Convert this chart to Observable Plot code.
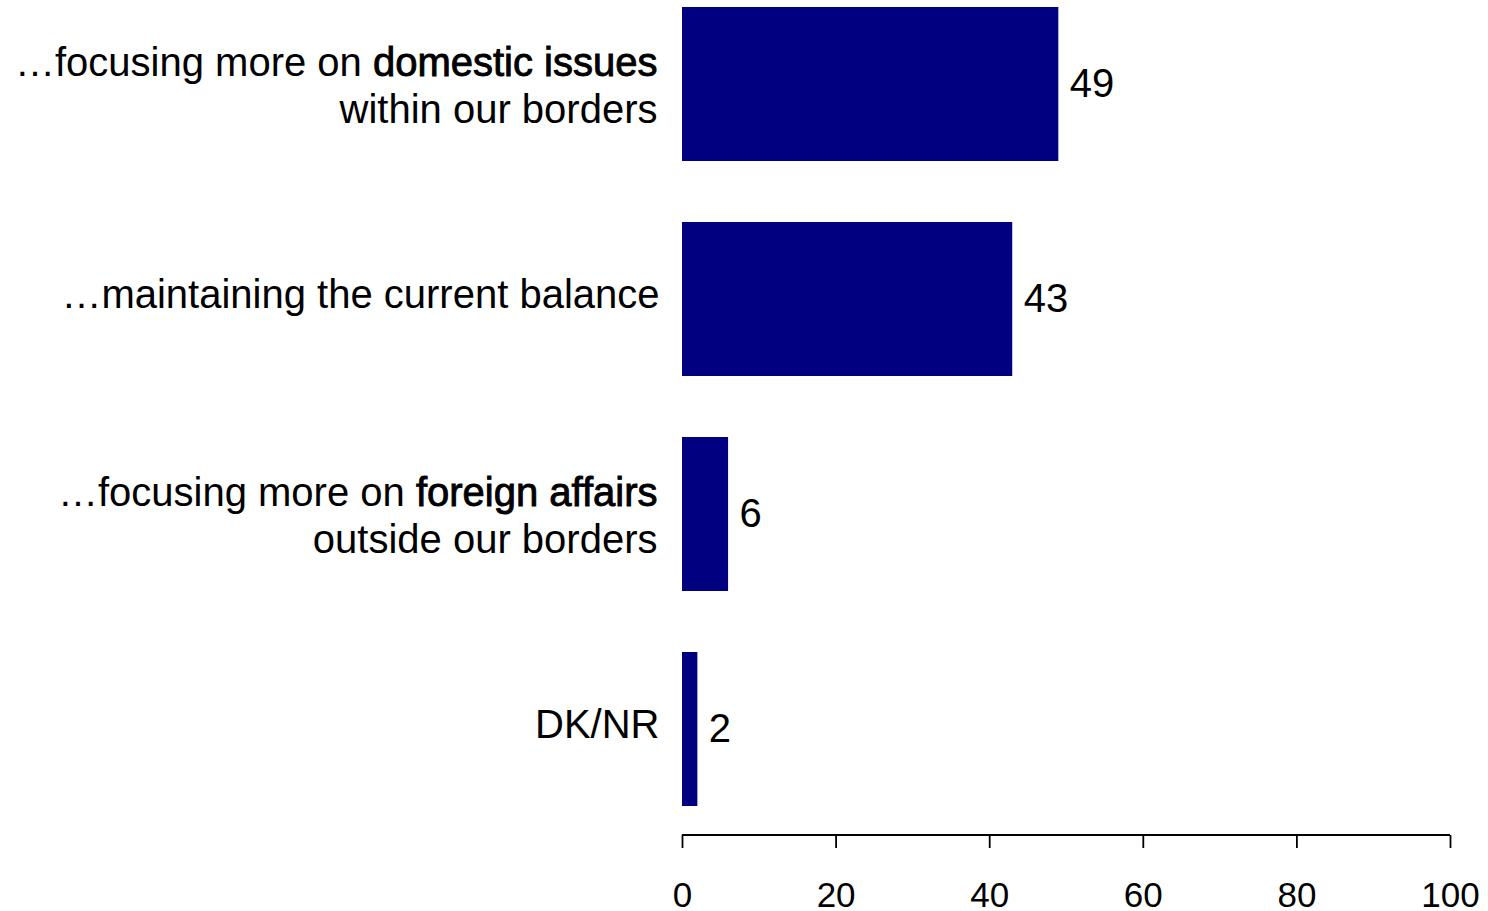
<!DOCTYPE html>
<html>
<head>
<meta charset="utf-8">
<script src="https://cdn.jsdelivr.net/npm/d3@7"></script>
<script src="https://cdn.jsdelivr.net/npm/@observablehq/plot@0.6"></script>
<style>
  html, body { margin: 0; padding: 0; background: #ffffff; }
  #chart svg { display: block; }
</style>
</head>
<body>
<div id="chart"></div>
<script>
// ---- Data ----
const categories = [
  "…focusing more on domestic issues\nwithin our borders",
  "…maintaining the current balance",
  "…focusing more on foreign affairs\noutside our borders",
  "DK/NR"
];
const values = [49, 43, 6, 2];
const boldPhrases = ["domestic issues", "foreign affairs"];
const xTicks = [0, 20, 40, 60, 80, 100];

const rows = categories.map((c, i) => ({category: c, value: values[i]}));

const FONT = "'Liberation Sans', Arial, Helvetica, sans-serif";

const chart = Plot.plot({
  width: 1488,
  height: 911,
  marginLeft: 682,
  marginRight: 38,
  marginTop: 7,
  marginBottom: 76,
  style: {fontFamily: FONT, background: "#ffffff", color: "#000000"},
  x: {domain: [0, 100], ticks: xTicks},
  y: {domain: categories, paddingInner: 0.284, paddingOuter: 0.0675, align: 0},
  marks: [
    Plot.barX(rows, {x: "value", y: "category", fill: "#000080"}),
    Plot.text(rows, {
      x: "value", y: "category", text: d => String(d.value),
      textAnchor: "start", dx: 11, fontSize: 40, fill: "#000000"
    }),
    // two-line category labels
    Plot.text(categories, {
      filter: d => d.includes("\n"),
      y: d => d, text: d => d, frameAnchor: "left", textAnchor: "end",
      dx: -25, fontSize: 40, lineHeight: 1.18, fill: "#000000"
    }),
    // single-line category labels
    Plot.text(categories, {
      filter: d => !d.includes("\n"),
      y: d => d, text: d => d, frameAnchor: "left", textAnchor: "end",
      dx: -23, dy: -4, fontSize: 40, fill: "#000000"
    }),
    Plot.axisX({
      ticks: xTicks, tickSize: 13, tickPadding: 34, fontSize: 35,
      label: null, stroke: "#000000", strokeWidth: 1.8, fill: "#000000"
    }),
    Plot.axisY({ticks: [], label: null}),
    // baseline of the x axis, drawn from the x scale
    (index, scales, values, dimensions) => {
      const y0 = dimensions.height - dimensions.marginBottom;
      const g = d3.create("svg:line")
        .attr("x1", scales.x(0))
        .attr("x2", scales.x(100))
        .attr("y1", y0)
        .attr("y2", y0)
        .attr("stroke", "#000000")
        .attr("stroke-width", 1.8);
      return g.node();
    }
  ]
});

// Emphasise the highlighted phrases inside the category labels (semi-bold look)
d3.select(chart).selectAll("text").each(function() {
  const textEl = this;
  const spans = textEl.querySelectorAll("tspan");
  const targets = spans.length ? Array.from(spans) : [textEl];
  for (const t of targets) {
    const s = t.textContent;
    const phrase = boldPhrases.find(p => s.includes(p));
    if (!phrase) continue;
    const idx = s.indexOf(phrase);
    const before = s.slice(0, idx);
    const after = s.slice(idx + phrase.length);
    t.textContent = "";
    const ns = "http://www.w3.org/2000/svg";
    if (before) { const a = document.createElementNS(ns, "tspan"); a.textContent = before; t.appendChild(a); }
    const b = document.createElementNS(ns, "tspan");
    b.setAttribute("stroke", "#000000");
    b.setAttribute("stroke-width", "0.9");
    b.textContent = phrase;
    t.appendChild(b);
    if (after) { const c = document.createElementNS(ns, "tspan"); c.textContent = after; t.appendChild(c); }
  }
});

document.getElementById("chart").appendChild(chart);
</script>
</body>
</html>
